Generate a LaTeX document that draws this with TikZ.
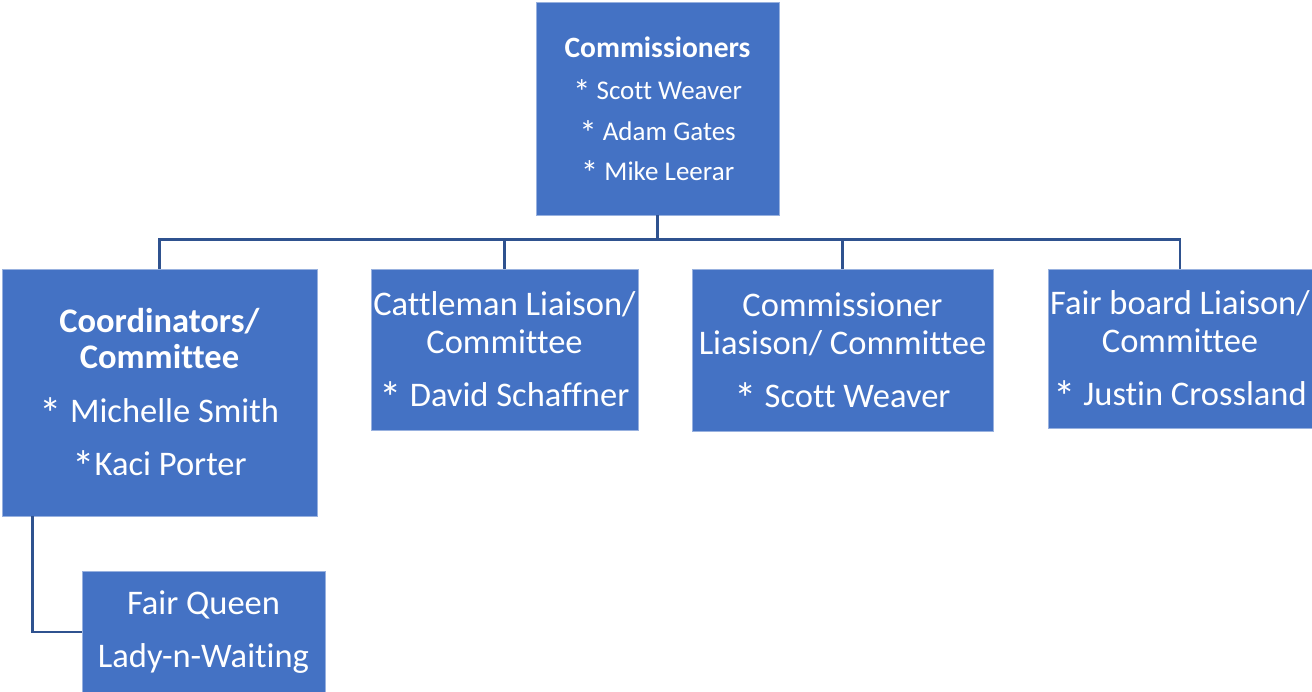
\documentclass[tikz,border=0pt]{standalone}
\usepackage{fontspec}
\usepackage{graphicx}
\setmainfont{Carlito}[Ligatures=NoCommon]
\usetikzlibrary{positioning}
\definecolor{boxblue}{HTML}{4472C4}
\definecolor{linkblue}{HTML}{2F528F}
\newcommand{\astx}{\smash{\raisebox{-0.2em}{\scalebox{1.3}{*}}}}

\begin{document}
\begin{tikzpicture}[
            x=1pt, y=-1pt,
            unit/.style={rectangle,fill=boxblue,draw=boxblue!55!white,line width=0.6pt,
                text=white,align=center,inner sep=0pt},
            bigtext/.style={font=\fontsize{34.5}{38}\selectfont},
            link/.style={draw=linkblue,line width=2.5pt}
        ]
        \useasboundingbox (0,0) rectangle (1312,692);

        % Draw top level %
        \node[unit,minimum width=243pt,minimum height=213pt,font=\fontsize{27}{32}\selectfont] (comm) at (657.5,108.5)
            {{\fontsize{29.5}{32}\selectfont\textbf{Commissioners}}\\[10pt]\astx{} Scott Weaver\\[9pt]\astx{} Adam Gates\\[8pt]\astx{} Mike Leerar};

        % Draw second level %
        \node[unit,bigtext,minimum width=315pt,minimum height=247pt] (coord) at (159.5,392.5)
            {\textbf{Coordinators/}\\[-2pt]\textbf{Committee}\\[16pt]\astx{} Michelle Smith\\[15pt]\astx{}Kaci Porter};
        \node[unit,bigtext,minimum width=267pt,minimum height=161pt] (cattle) at (504.5,349.5)
            {Cattleman Liaison/\\Committee\\[15pt]\astx{} David Schaffner};
        \node[unit,bigtext,minimum width=301pt,minimum height=162pt] (liaison) at (842.5,350)
            {Commissioner\\Liasison/ Committee\\[15pt]\astx{} Scott Weaver};
        \node[unit,bigtext,minimum width=264pt,minimum height=159pt] (fair) at (1180,348.5)
            {Fair board Liaison/\\Committee\\[15pt]\astx{} Justin Crossland};

        % Draw third level %
        \node[unit,bigtext,minimum width=243pt,minimum height=122pt] (queen) at (203.5,632)
            {Fair Queen\\[15pt]Lady-n-Waiting};

        % Draw links %
        \draw[link] (comm.south) -- ++(0,24) -| (coord.north);
        \draw[link] (comm.south) -- ++(0,24) -| (cattle.north);
        \draw[link] (comm.south) -- ++(0,24) -| (liaison.north);
        \draw[link] (comm.south) -- ++(0,24) -| (fair.north);
        \draw[link] ([xshift=31pt]coord.south west) |- (queen.west);
        \end{tikzpicture}
\end{document}
